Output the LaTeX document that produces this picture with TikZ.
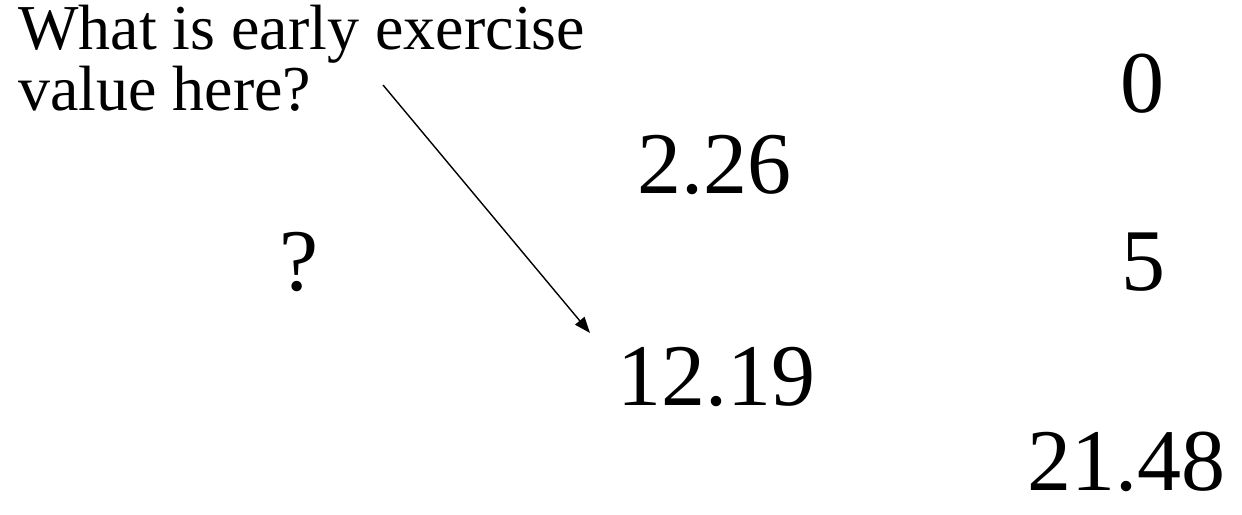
\documentclass[tikz,border=0pt]{standalone}
\usepackage{fontspec}
\setmainfont{Liberation Serif}
\usetikzlibrary{arrows.meta}
\begin{document}
\begin{tikzpicture}[x=1pt,y=-1pt,
  num/.style={anchor=base,inner sep=0pt,font=\fontsize{88}{92}\selectfont},
  lbl/.style={anchor=base west,inner sep=0pt,text height=0.7em,font=\fontsize{64}{64}\selectfont},
  pointer/.style={line width=1.4pt,-{Triangle[length=16pt,width=12pt]}}]
\useasboundingbox (0,0) rectangle (1242,514);
\node[lbl] (q1) at (18,49) {What is early exercise};
\node[lbl] (q2) at (18,110) {value here?};
\node[num] (n0) at (1142,112) {0};
\node[num] (n226) at (714,193) {2.26};
\node[num] (nq) at (299,290) {?};
\node[num] (n5) at (1143,290) {5};
\node[num] (n1219) at (716,405) {12.19};
\node[num] (n2148) at (1126,490) {21.48};
\coordinate (s) at (383,85);
\coordinate (e) at (590,333);
\draw[pointer] (s) -- (e);
\end{tikzpicture}
\end{document}
